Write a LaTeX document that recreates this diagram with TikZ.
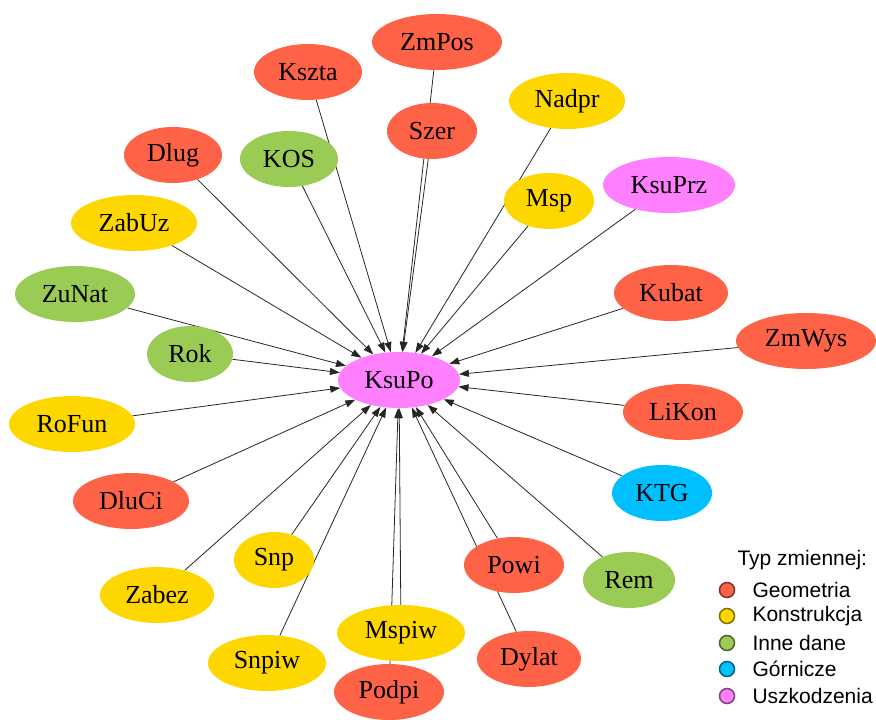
\documentclass[tikz,border=0pt]{standalone}
\usepackage{fontspec}
\setmainfont{Liberation Serif}
\newfontfamily\nodefont{Liberation Serif}
\newfontfamily\legendfont{Liberation Sans}
\usetikzlibrary{arrows.meta,shapes.geometric,backgrounds}

\definecolor{geom}{HTML}{FF6347}
\definecolor{konstr}{HTML}{FFD700}
\definecolor{inne}{HTML}{9ACB55}
\definecolor{gorn}{HTML}{00BFFF}
\definecolor{uszk}{HTML}{FF80FF}

\begin{document}
\begin{tikzpicture}[
    x=1pt, y=-1pt,
    font=\nodefont\fontsize{26}{28}\selectfont,
    var/.style={ellipse, draw=none, inner sep=0pt, minimum height=56pt},
    geo/.style={var, fill=geom},
    kon/.style={var, fill=konstr},
    inn/.style={var, fill=inne},
    gor/.style={var, fill=gorn},
    usz/.style={var, fill=uszk},
    link/.style={-{Triangle[length=10pt,width=7pt]}, line width=0.8pt, black!85},
    legmark/.style={circle, inner sep=0pt, minimum size=15pt, line width=1.5pt},
    legtext/.style={anchor=west, font=\legendfont\fontsize{21}{23}\selectfont}
]
\useasboundingbox (0,0) rectangle (876,720);

% Target variable
\node[usz, minimum width=122] (KsuPo) at (399,380) {KsuPo};

% Upper half
\node[geo, minimum width=130] (ZmPos) at (437,42) {ZmPos};
\node[geo, minimum width=90] (Szer) at (432,131) {Szer};
\node[geo, minimum width=108] (Kszta) at (308,72) {Kszta};
\node[inn, minimum width=98] (KOS) at (289,159) {KOS};
\node[geo, minimum width=98] (Dlug) at (173,155) {Dlug};
\node[kon, minimum width=126] (ZabUz) at (134,223) {ZabUz};
\node[inn, minimum width=120] (ZuNat) at (75,294) {ZuNat};
\node[inn, minimum width=86] (Rok) at (190,354) {Rok};
\node[kon, minimum width=116] (Nadpr) at (567,101) {Nadpr};
\node[kon, minimum width=90] (Msp) at (549,201) {Msp};
\node[usz, minimum width=132] (KsuPrz) at (669,185) {KsuPrz};
\node[geo, minimum width=114] (Kubat) at (671,293) {Kubat};
\node[geo, minimum width=140] (ZmWys) at (806,341) {ZmWys};

% Lower half
\node[kon, minimum width=126] (RoFun) at (72,424) {RoFun};
\node[geo, minimum width=116] (DluCi) at (131,501) {DluCi};
\node[kon, minimum width=114] (Zabez) at (157,595) {Zabez};
\node[kon, minimum width=80] (Snp) at (274,560) {Snp};
\node[kon, minimum width=118] (Snpiw) at (267,663) {Snpiw};
\node[kon, minimum width=128] (Mspiw) at (401,633) {Mspiw};
\node[geo, minimum width=110] (Podpi) at (389,692) {Podpi};
\node[geo, minimum width=104] (Dylat) at (529,659) {Dylat};
\node[geo, minimum width=100] (Powi) at (514,565) {Powi};
\node[inn, minimum width=92] (Rem) at (629,580) {Rem};
\node[gor, minimum width=100] (KTG) at (662,493) {KTG};
\node[geo, minimum width=120] (LiKon) at (683,412) {LiKon};

% Edges to KsuPo (behind the nodes)
\begin{scope}[on background layer]
    \draw[link] (ZmPos) -- (KsuPo);
    \draw[link] (Szer) -- (KsuPo);
    \draw[link] (Kszta) -- (KsuPo);
    \draw[link] (KOS) -- (KsuPo);
    \draw[link] (Dlug) -- (KsuPo);
    \draw[link] (ZabUz) -- (KsuPo);
    \draw[link] (ZuNat) -- (KsuPo);
    \draw[link] (Rok) -- (KsuPo);
    \draw[link] (Nadpr) -- (KsuPo);
    \draw[link] (Msp) -- (KsuPo);
    \draw[link] (KsuPrz) -- (KsuPo);
    \draw[link] (Kubat) -- (KsuPo);
    \draw[link] (ZmWys) -- (KsuPo);
    \draw[link] (RoFun) -- (KsuPo);
    \draw[link] (DluCi) -- (KsuPo);
    \draw[link] (Zabez) -- (KsuPo);
    \draw[link] (Snp) -- (KsuPo);
    \draw[link] (Snpiw) -- (KsuPo);
    \draw[link] (Mspiw) -- (KsuPo);
    \draw[link] (Podpi) -- (KsuPo);
    \draw[link] (Dylat) -- (KsuPo);
    \draw[link] (Powi) -- (KsuPo);
    \draw[link] (Rem) -- (KsuPo);
    \draw[link] (KTG) -- (KsuPo);
    \draw[link] (LiKon) -- (KsuPo);
\end{scope}

% Legend
\node[legtext] (LgTitle) at (734,560) {Typ zmiennej:};
\node[legmark, fill=geom, draw=geom!50!black] (LgGeo) at (727,590) {};
\node[legmark, fill=konstr, draw=konstr!50!black] (LgKon) at (727,616) {};
\node[legmark, fill=inne, draw=inne!50!black] (LgInn) at (727,643) {};
\node[legmark, fill=gorn, draw=gorn!50!black] (LgGor) at (727,669) {};
\node[legmark, fill=uszk, draw=uszk!50!black] (LgUsz) at (727,696) {};
\node[legtext] (LgGeoTxt) at (749,590) {Geometria};
\node[legtext] (LgKonTxt) at (749,616) {Konstrukcja};
\node[legtext] (LgInnTxt) at (749,643) {Inne dane};
\node[legtext] (LgGorTxt) at (749,669) {Górnicze};
\node[legtext] (LgUszTxt) at (749,696) {Uszkodzenia};

\end{tikzpicture}
\end{document}
